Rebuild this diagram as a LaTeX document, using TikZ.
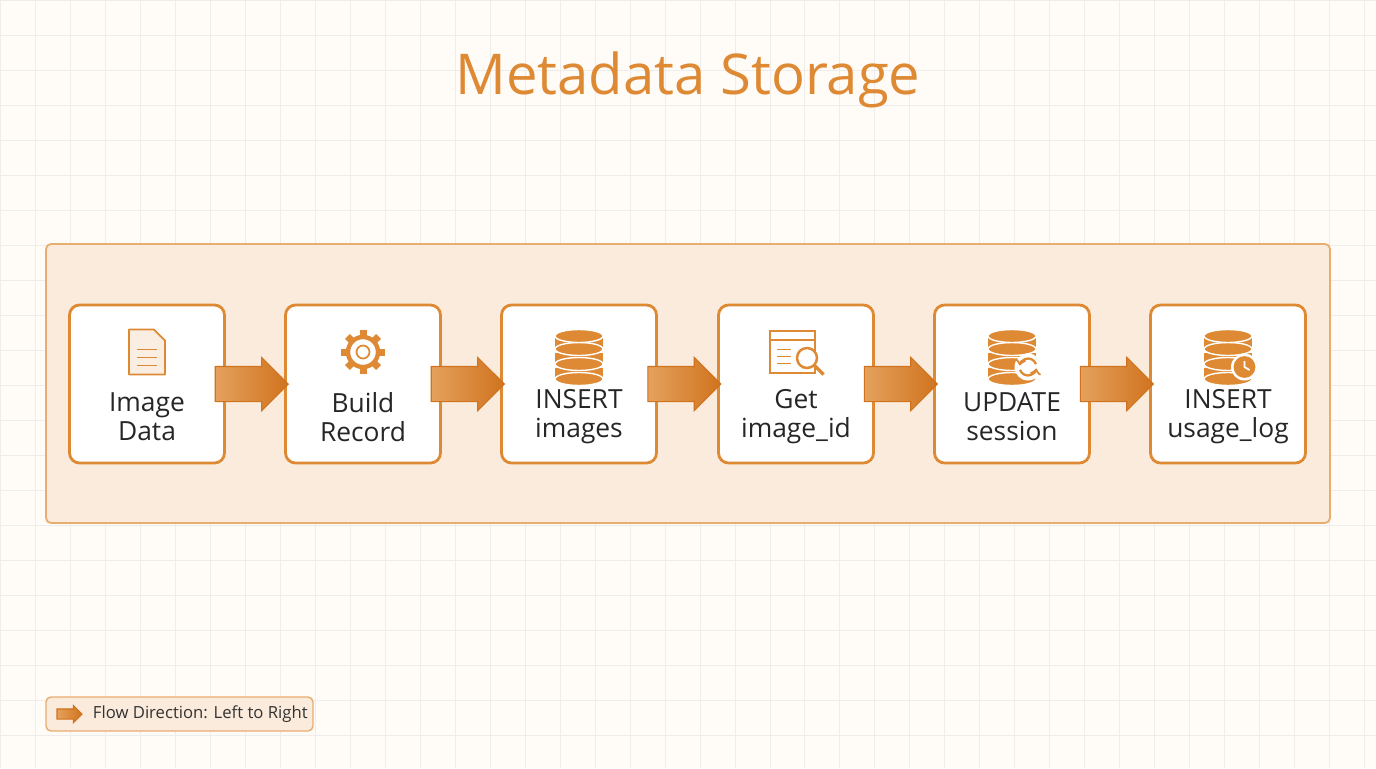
\documentclass[tikz,border=0pt]{standalone}
\usepackage{fontspec}
\setmainfont{Open Sans}
\usetikzlibrary{positioning,shapes.arrows,calc}
\definecolor{orangeMain}{HTML}{DE8A34}
\definecolor{orangeDark}{HTML}{D0731E}
\definecolor{panelFill}{HTML}{FBEBDC}
\definecolor{gridLine}{HTML}{EFEDEB}
\tikzset{
  stepStyle/.style={rectangle, rounded corners=0.2cm, draw=orangeMain, line width=1.6pt, fill=white,
    minimum width=3.1cm, minimum height=3.16cm},
  textStyle/.style={align=center, font=\fontsize{15}{16.5}\selectfont, text=black!85},
  flowStyle/.style={single arrow, draw=orangeDark, line width=0.6pt, left color=orangeMain!80!white, right color=orangeDark,
    inner xsep=0pt, inner ysep=0.34cm, minimum height=1.46cm, single arrow head extend=0.18cm,
    single arrow head indent=0cm},
  iconStyle/.style={draw=orangeMain, line width=1pt},
  dbStyle/.style={fill=orangeMain, draw=white, line width=0.8pt}
}
\newcommand{\dbIcon}[1]{%
  \foreach \k in {2,1,0}{
    \fill[orangeMain] ([xshift=-0.48cm,yshift=0.28cm-\k*0.3cm]#1) rectangle ([xshift=0.48cm,yshift=0.06cm-\k*0.3cm]#1);
    \draw[dbStyle] ([yshift=0.06cm-\k*0.3cm]#1) ellipse (0.48cm and 0.13cm);}
  \draw[dbStyle] ([yshift=0.32cm]#1) ellipse (0.48cm and 0.13cm);}
\begin{document}
\begin{tikzpicture}[x=0.02cm, y=-0.02cm]
  \useasboundingbox (0,0) rectangle (1376,768);
  \fill[white!97!orange] (0,0) rectangle (1376,768);
  \draw[gridLine, step=0.7cm] (0,0) grid (1376,768);

  \node[text=orangeMain, font=\fontsize{32}{36}\selectfont] (title) at (688,80) {Metadata Storage};

  \draw[draw=orangeMain!70, fill=panelFill, line width=1pt, rounded corners=0.1cm] (46,244) rectangle (1330,523);

  % steps
  \node[stepStyle] (imgData)  at (147,384) {};
  \node[stepStyle] (build)    at (363,384) {};
  \node[stepStyle] (insImg)   at (579,384) {};
  \node[stepStyle] (getId)    at (796,384) {};
  \node[stepStyle] (updSess)  at (1012,384) {};
  \node[stepStyle] (insLog)   at (1228,384) {};
  \foreach \n/\t in {imgData/{Image\\Data}, build/{Build\\Record}, insImg/{INSERT\\images},
                     getId/{Get\\image\_id}, updSess/{UPDATE\\session}, insLog/{INSERT\\usage\_log}}
    \node[textStyle] (\n Txt) at ([yshift=-0.66cm]\n.center) {\t};

  % arrows
  \foreach \a/\b in {imgData/build, build/insImg, insImg/getId, getId/updSess, updSess/insLog}
    \node[flowStyle] (\a Arr) at ([xshift=-0.24cm]$(\a.east)!0.5!(\b.west)$) {};

  % icons
  \coordinate (i1) at (147,352);
  \draw[iconStyle, fill=orangeMain!15, line join=round] ([xshift=-0.36cm,yshift=0.45cm]i1) -- ([xshift=0.14cm,yshift=0.45cm]i1)
    -- ([xshift=0.36cm,yshift=0.23cm]i1) -- ([xshift=0.36cm,yshift=-0.45cm]i1) -- ([xshift=-0.36cm,yshift=-0.45cm]i1) -- cycle;
  \foreach \k in {0,1,2}
    \draw[iconStyle] ([xshift=-0.2cm,yshift=0.05cm-\k*0.16cm]i1) -- ([xshift=0.2cm,yshift=0.05cm-\k*0.16cm]i1);

  \coordinate (i2) at (363,352);
  \foreach \t in {0,45,...,315}
    \fill[orangeMain] ([shift={(\t:0.3cm)}]i2) ++(\t+90:0.07cm) -- ++(\t:0.14cm) -- ++(\t-90:0.14cm) -- ++(\t+180:0.14cm) -- cycle;
  \draw[orangeMain, line width=2.5pt] (i2) circle (0.3cm);
  \draw[orangeMain, line width=1pt, fill=white] (i2) circle (0.13cm);

  \coordinate (i3) at (579,352);
  \dbIcon{i3}

  \coordinate (i4) at (796,352);
  \draw[iconStyle, fill=white] ([xshift=-0.52cm,yshift=-0.42cm]i4) rectangle ([xshift=0.38cm,yshift=0.42cm]i4);
  \draw[iconStyle] ([xshift=-0.52cm,yshift=0.24cm]i4) -- ([xshift=0.38cm,yshift=0.24cm]i4);
  \foreach \k in {0,1,2}
    \draw[iconStyle] ([xshift=-0.38cm,yshift=0.05cm-\k*0.14cm]i4) -- ([xshift=-0.1cm,yshift=0.05cm-\k*0.14cm]i4);
  \draw[iconStyle, line width=1.4pt, fill=white] ([xshift=0.22cm,yshift=-0.12cm]i4) circle (0.2cm);
  \draw[iconStyle, line width=2pt] ([xshift=0.37cm,yshift=-0.27cm]i4) -- ([xshift=0.55cm,yshift=-0.45cm]i4);

  \coordinate (i5) at (1012,352);
  \dbIcon{i5}
  \fill[white] ([xshift=0.32cm,yshift=-0.3cm]i5) circle (0.27cm);
  \draw[orangeMain, line width=1.3pt, ->] ([xshift=0.32cm,yshift=-0.3cm]i5) ++(20:0.17cm) arc (20:170:0.17cm);
  \draw[orangeMain, line width=1.3pt, ->] ([xshift=0.32cm,yshift=-0.3cm]i5) ++(200:0.17cm) arc (200:350:0.17cm);

  \coordinate (i6) at (1228,352);
  \dbIcon{i6}
  \fill[white] ([xshift=0.33cm,yshift=-0.3cm]i6) circle (0.27cm);
  \draw[orangeMain, fill=orangeMain, line width=1pt] ([xshift=0.33cm,yshift=-0.3cm]i6) circle (0.2cm);
  \draw[white, line width=1pt] ([xshift=0.33cm,yshift=-0.18cm]i6) -- ([xshift=0.33cm,yshift=-0.3cm]i6) -- ([xshift=0.43cm,yshift=-0.36cm]i6);

  % legend
  \draw[draw=orangeMain!70, fill=panelFill, line width=0.8pt, rounded corners=0.1cm] (46,697) rectangle (313,731);
  \node[flowStyle, inner ysep=0.09cm, single arrow head extend=0.07cm, minimum height=0.5cm] (legArrow) at (67,714) {};
  \node[right=0.08cm of legArrow, font=\fontsize{9.5}{11}\selectfont, text=black!80] (legText) {Flow Direction: Left to Right};
\end{tikzpicture}
\end{document}
